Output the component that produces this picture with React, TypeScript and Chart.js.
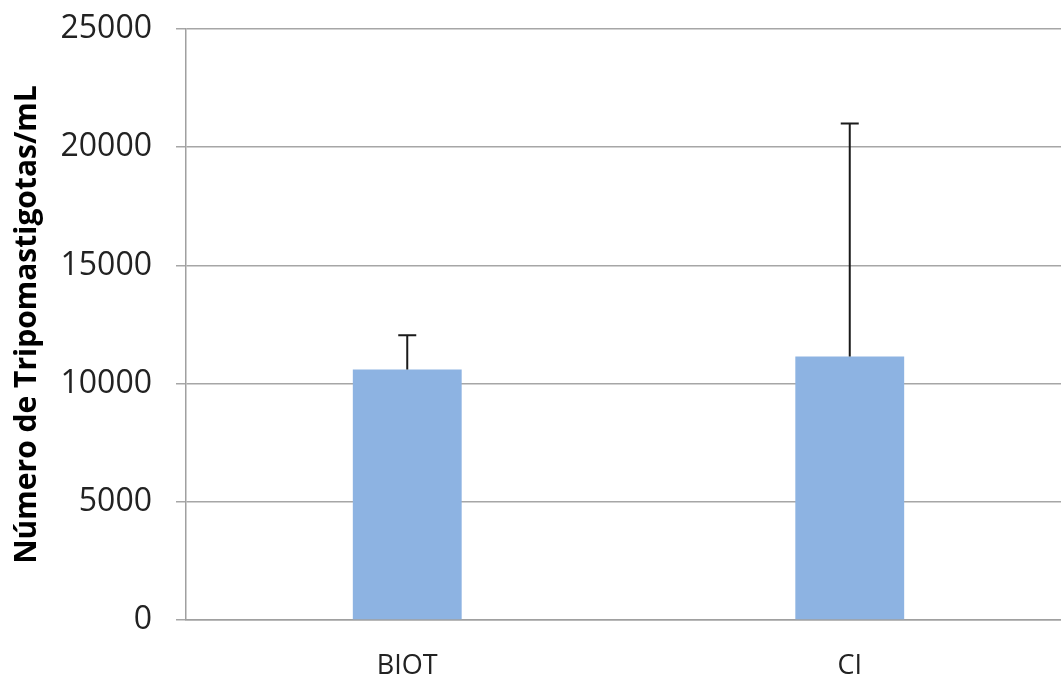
import React, { useEffect, useRef } from "react";
import { Chart, registerables } from "chart.js";

Chart.register(...registerables);

const categories = ["BIOT", "CI"];
const means = [10600, 11150];
const errorsUp = [1450, 9850];
const yTicks = [0, 5000, 10000, 15000, 20000, 25000];
const yTitle = "Número de Tripomastigotas/mL";

const errorBarPlugin = {
  id: "errorBars",
  afterDatasetsDraw(chart: any) {
    const ctx = chart.ctx;
    const meta = chart.getDatasetMeta(0);
    const y = chart.scales.y;
    ctx.save();
    ctx.strokeStyle = "#1a1a1a";
    ctx.lineWidth = 2;
    meta.data.forEach((bar: any, i: number) => {
      const x = bar.x;
      const yTop = y.getPixelForValue(means[i] + errorsUp[i]);
      const yBase = y.getPixelForValue(means[i]);
      ctx.beginPath();
      ctx.moveTo(x, yBase);
      ctx.lineTo(x, yTop);
      ctx.moveTo(x - 9, yTop);
      ctx.lineTo(x + 9, yTop);
      ctx.stroke();
    });
    ctx.restore();
  },
};

export default function App() {
  const ref = useRef<HTMLCanvasElement>(null);
  useEffect(() => {
    document.body.style.overflow = "hidden";
    const chart = new Chart(ref.current as HTMLCanvasElement, {
      type: "bar",
      data: {
        labels: categories,
        datasets: [
          {
            data: means,
            backgroundColor: "#8db3e2",
            borderWidth: 0,
            barPercentage: 0.246,
            categoryPercentage: 1,
          },
        ],
      },
      options: {
        animation: false,
        responsive: false,
        maintainAspectRatio: false,
        layout: { padding: { top: 29, left: 0, right: 0, bottom: 0 } },
        plugins: { legend: { display: false }, tooltip: { enabled: false } },
        scales: {
          x: {
            grid: { display: false, drawTicks: false },
            border: { display: true, color: "#a0a0a0", width: 1.5 },
            ticks: {
              color: "#222",
              padding: 30,
              font: { family: "Open Sans", size: 27 },
            },
            afterFit: (s: any) => {
              s.height = 60;
              s.paddingLeft = 0;
              s.paddingRight = 0;
            },
          },
          y: {
            min: 0,
            max: 25000,
            afterBuildTicks: (s: any) => {
              s.ticks = yTicks.map((v) => ({ value: v }));
            },
            grid: { color: "#a6a6a6", lineWidth: 1.5, tickLength: 10 },
            border: { display: true, color: "#a0a0a0", width: 1.5 },
            ticks: {
              color: "#222",
              padding: 24,
              font: { family: "Open Sans", size: 32 },
              callback: (v: any) => String(v),
            },
            title: {
              display: true,
              text: yTitle,
              color: "#000",
              font: { family: "Open Sans", size: 30, weight: "bold" },
              padding: { top: 9, bottom: 0 },
            },
            afterFit: (s: any) => {
              s.width = 186;
              s.paddingTop = 0;
              s.paddingBottom = 0;
            },
          },
        },
      },
      plugins: [errorBarPlugin],
    });
    return () => chart.destroy();
  }, []);
  return (
    <div style={{ position: "absolute", left: 0, top: 0, width: 1071, height: 680, background: "#fff" }}>
      <canvas ref={ref} width={1071} height={680} />
    </div>
  );
}
